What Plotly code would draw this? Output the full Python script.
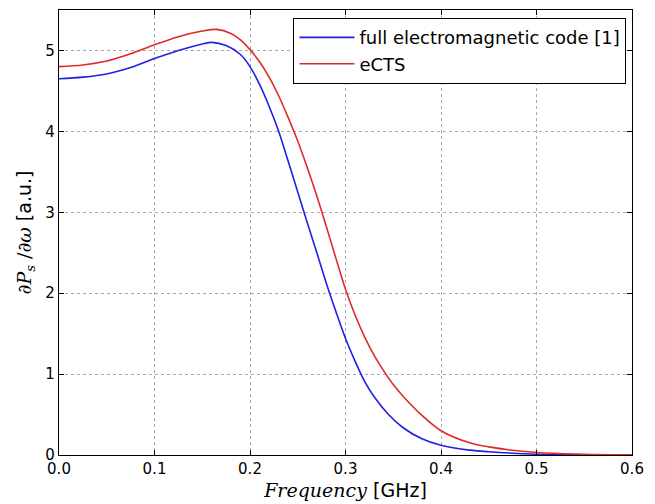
import plotly.graph_objects as go

freq_em = [0.0, 0.025, 0.05, 0.075, 0.1, 0.125, 0.15, 0.16, 0.175, 0.19, 0.2, 0.21, 0.22, 0.23,
           0.24, 0.25, 0.26, 0.27, 0.28, 0.29, 0.30, 0.31, 0.32, 0.33, 0.345, 0.36, 0.38, 0.40,
           0.43, 0.45, 0.5, 0.55, 0.6]
power_em = [4.65, 4.67, 4.71, 4.79, 4.90, 5.00, 5.08, 5.10, 5.06, 4.95, 4.80, 4.58, 4.31, 4.00,
            3.63, 3.25, 2.87, 2.50, 2.12, 1.77, 1.44, 1.16, 0.91, 0.72, 0.50, 0.34, 0.20, 0.12,
            0.06, 0.04, 0.01, 0.003, 0.0]

freq_ects = [0.0, 0.025, 0.05, 0.075, 0.1, 0.125, 0.15, 0.165, 0.18, 0.19, 0.2, 0.21, 0.22, 0.23,
             0.24, 0.25, 0.26, 0.27, 0.28, 0.29, 0.30, 0.31, 0.32, 0.33, 0.34, 0.35, 0.36, 0.38,
             0.40, 0.43, 0.45, 0.5, 0.55, 0.6]
power_ects = [4.80, 4.82, 4.87, 4.96, 5.07, 5.17, 5.24, 5.26, 5.21, 5.13, 5.01, 4.86, 4.67, 4.44,
              4.17, 3.88, 3.55, 3.20, 2.82, 2.43, 2.05, 1.73, 1.46, 1.23, 1.04, 0.87, 0.73, 0.49,
              0.30, 0.15, 0.10, 0.03, 0.01, 0.003]

x_ticks = [0.0, 0.1, 0.2, 0.3, 0.4, 0.5, 0.6]
y_ticks = [0, 1, 2, 3, 4, 5]

fig = go.Figure()
fig.add_trace(go.Scatter(x=freq_em, y=power_em, mode="lines", name="full electromagnetic code [1]",
                         line=dict(color="#1f1fe6", width=1.6, shape="spline", smoothing=0.9)))
fig.add_trace(go.Scatter(x=freq_ects, y=power_ects, mode="lines", name="eCTS",
                         line=dict(color="#e02a2a", width=1.6, shape="spline", smoothing=0.9)))

axis_common = dict(showline=True, linecolor="black", linewidth=1.3, mirror="ticks",
                   ticks="inside", ticklen=5, tickcolor="black",
                   showgrid=True, gridcolor="#aaaaaa", griddash="dot", gridwidth=1,
                   zeroline=False, automargin=False,
                   tickfont=dict(family="DejaVu Sans", size=15, color="black"))

# page body adds an 8px offset; compensate with the figure size/margins
fig.update_layout(
    width=647, height=496,
    margin=dict(l=51, r=23, t=2, b=49),
    paper_bgcolor="white", plot_bgcolor="white",
    showlegend=True,
    legend=dict(x=0.99, y=0.982, xanchor="right", yanchor="top",
                bgcolor="white", bordercolor="black", borderwidth=1.2,
                font=dict(family="DejaVu Sans", size=18, color="black"),
                tracegroupgap=0, itemwidth=55),
    xaxis=dict(range=[0, 0.6], tickvals=x_ticks, ticktext=[f"{v:.1f}" for v in x_ticks],
               title=dict(text="<span style='font-family:DejaVu Serif'><i>Frequency</i></span> [GHz]",
                          font=dict(family="DejaVu Sans", size=19, color="black"), standoff=6),
               **axis_common),
    yaxis=dict(range=[0, 5.5], tickvals=y_ticks, ticktext=[str(v) for v in y_ticks],
               title=dict(text="<span style='font-family:DejaVu Serif'>∂<i>P</i><sub><i>s</i></sub> /∂<i>ω</i></span> [a.u.]",
                          font=dict(family="DejaVu Sans", size=19, color="black"), standoff=8),
               **axis_common),
)

fig.write_html("out.html")
